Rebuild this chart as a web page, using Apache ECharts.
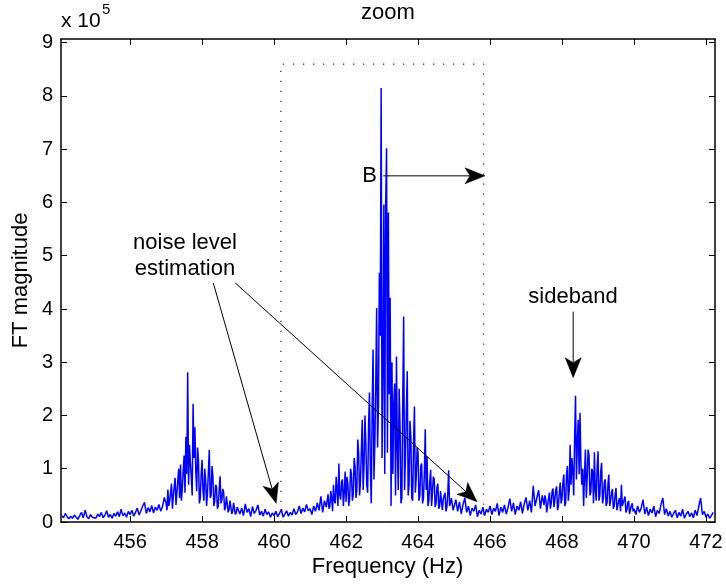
<!DOCTYPE html>
<html>
<head>
<meta charset="utf-8">
<script src="https://cdn.jsdelivr.net/npm/echarts@6/dist/echarts.min.js"></script>
<style>html,body{margin:0;padding:0;background:#fff}#c{width:726px;height:585px}</style>
</head>
<body>
<div id="c"></div>
<script>
// FT magnitude (x 10^5), in frequency segments.
// Each segment: start frequency (Hz) and sampling step (Hz).
const baseLeft = [ // 454.10 .. 456.95, step 0.05
  0.12,0.08,0.16,0.10,0.06,0.11,0.07,0.13,0.09,0.05,0.12,0.18,0.08,0.22,0.10,0.06,0.14,0.09,
  0.12,0.07,0.15,0.10,0.18,0.08,0.13,0.21,0.09,0.14,0.07,0.16,0.11,0.19,0.10,0.24,0.12,0.17,0.09,0.20,
  0.14,0.22,0.11,0.18,0.26,0.13,0.21,0.30,0.37,0.16,0.27,0.19,0.31,0.17,0.28,0.22,0.33,0.20,0.29,0.46
];
const peakLeft = [ // 457.000 .. 458.975, step 0.025
  0.35,0.22,0.61,0.30,0.40,0.55,0.72,0.25,0.48,0.66,0.83,0.32,0.55,0.78,1.00,0.45,1.08,0.40,0.62,0.95,
  1.25,0.55,1.60,0.90,2.81,0.70,1.45,1.10,0.85,0.50,2.22,1.20,1.78,0.95,0.58,1.40,1.15,0.35,0.45,0.90,
  1.17,0.60,0.40,1.00,0.78,0.30,0.55,0.95,1.35,0.45,0.50,1.05,0.86,0.30,0.38,0.70,0.66,0.25,0.30,0.60,
  0.86,0.35,0.42,0.62,0.55,0.22,0.28,0.48,0.45,0.18,0.24,0.40,0.38,0.15,0.20,0.36,0.33,0.14,0.18,0.28
];
const baseMid = [ // 459.00 .. 461.45, step 0.05
  0.30,0.15,0.26,0.12,0.34,0.18,0.25,0.10,0.29,0.16,0.22,0.32,0.13,0.20,0.11,0.24,0.14,0.19,0.09,0.17,
  0.12,0.20,0.10,0.16,0.24,0.09,0.15,0.21,0.11,0.18,0.13,0.25,0.14,0.19,0.30,0.16,0.26,0.19,0.33,0.21,
  0.25,0.14,0.30,0.20,0.36,0.22,0.48,0.18,0.40,0.28
];
const peakCentre = [ // 461.500 .. 464.975, step 0.025
  0.52,0.25,0.30,0.58,0.45,0.20,0.70,0.40,0.35,0.85,0.62,0.30,1.10,0.50,0.42,0.75,0.80,0.30,0.55,0.95,
  0.38,0.85,0.72,0.30,0.45,1.00,0.90,0.40,0.52,1.20,1.05,0.45,0.60,1.55,1.30,0.50,0.75,1.35,1.92,0.60,
  1.10,2.00,1.45,0.70,0.55,1.80,2.43,1.00,0.35,2.10,3.24,0.80,1.50,2.60,4.02,1.40,2.20,4.68,3.50,8.15,
  1.20,2.80,5.96,0.90,5.90,7.02,1.30,5.81,2.40,4.21,0.30,3.00,0.90,2.20,2.60,0.50,3.11,1.40,0.60,2.50,
  1.80,0.35,0.45,2.30,3.86,0.60,1.20,2.10,2.83,0.50,0.70,1.90,1.60,0.45,0.40,1.50,2.17,0.55,0.85,1.40,
  1.30,0.40,0.50,1.05,1.10,0.35,0.45,0.90,1.74,0.60,1.23,0.30,0.40,0.75,0.98,0.30,0.55,0.85,0.80,0.28,
  0.35,0.65,0.72,0.25,0.30,0.58,0.60,0.22,0.42,0.50,0.55,0.20,0.28,0.52,0.97,0.30,0.35,0.45,0.48,0.22
];
const baseRight = [ // 465.00 .. 467.45, step 0.05
  0.25,0.42,0.20,0.38,0.15,0.33,0.45,0.18,0.30,0.12,0.26,0.20,0.32,0.10,0.22,0.15,0.28,0.12,0.24,0.18,
  0.30,0.14,0.26,0.20,0.35,0.12,0.28,0.18,0.32,0.15,0.27,0.44,0.20,0.36,0.14,0.30,0.22,0.38,0.16,0.34,
  0.46,0.22,0.40,0.18,0.68,0.30,0.45,0.60,0.25,0.50
];
const peakSideband = [ // 467.500 .. 469.975, step 0.025
  0.32,0.50,0.42,0.18,0.20,0.45,0.55,0.25,0.35,0.58,0.63,0.28,0.40,0.60,0.67,0.22,0.30,0.55,0.74,0.35,
  0.45,0.75,0.89,0.30,0.35,0.90,1.05,0.40,0.60,1.45,0.70,1.20,0.95,0.50,1.60,2.37,0.80,1.50,1.92,0.90,
  2.05,1.10,0.70,1.00,0.30,0.90,1.36,0.45,0.85,1.36,1.25,0.50,0.55,1.00,0.95,0.35,1.31,0.60,0.40,1.00,
  1.33,0.40,0.50,0.95,1.11,0.35,0.45,0.75,0.80,0.30,0.35,0.70,0.89,0.30,0.40,0.55,0.62,0.25,0.30,0.50,
  0.64,0.22,0.25,0.40,0.45,0.20,0.70,0.30,0.28,0.42,0.48,0.18,0.22,0.36,0.40,0.15,0.18,0.30,0.35,0.20
];
const baseEnd = [ // 470.00 .. 472.20, step 0.05
  0.25,0.14,0.30,0.18,0.26,0.42,0.15,0.28,0.12,0.24,0.17,0.30,0.10,0.22,0.16,0.33,0.45,0.14,0.25,0.11,
  0.20,0.09,0.16,0.22,0.08,0.18,0.11,0.24,0.07,0.15,0.20,0.10,0.17,0.08,0.22,0.12,0.30,0.45,0.14,0.20,
  0.09,0.15,0.07,0.12,0.18
];
const segmentStarts = [454.10, 457.00, 459.00, 461.50, 465.00, 467.50, 470.00];
const segmentSteps  = [0.05, 0.025, 0.05, 0.025, 0.05, 0.025, 0.05];
const segmentValues = [baseLeft, peakLeft, baseMid, peakCentre, baseRight, peakSideband, baseEnd];

const xTicks = [456, 458, 460, 462, 464, 466, 468, 470, 472];
const yTicks = [0, 1, 2, 3, 4, 5, 6, 7, 8, 9];
const xRange = [454.08, 472.25];
const yRange = [0, 9.07];

// dotted "zoom" rectangle (Hz, x10^5)
const zoomBoxX = [460.19, 465.82];
const zoomBoxTop = 8.6;

// annotation arrows, [from, to] in data units
const arrows = [
  [[458.31, 4.49], [460.06, 0.35]],
  [[458.92, 4.49], [465.64, 0.38]],
  [[463.03, 6.50], [465.86, 6.50]],
  [[468.31, 3.95], [468.31, 2.71]]
];

const spectrum = [];
segmentValues.forEach((vals, s) => {
  vals.forEach((m, i) => spectrum.push([+(segmentStarts[s] + i * segmentSteps[s]).toFixed(3), m]));
});
const boxData = [
  [zoomBoxX[0], 0], [zoomBoxX[0], zoomBoxTop], [zoomBoxX[1], zoomBoxTop], [zoomBoxX[1], 0], [zoomBoxX[0], 0]
];

const FONT = '"Liberation Sans", Arial, Helvetica, sans-serif';
const chart = echarts.init(document.getElementById('c'), null, {renderer: 'canvas'});

function xAxisDef(pos, showLabel) {
  return {
    type: 'value', position: pos, min: xRange[0], max: xRange[1],
    axisLine: {onZero: false, lineStyle: {color: '#000', width: 1.5}},
    axisTick: {inside: true, length: 6, customValues: xTicks, lineStyle: {color: '#000', width: 1}},
    axisLabel: {show: showLabel, customValues: xTicks, fontSize: 20, color: '#000', fontFamily: FONT, margin: 10},
    splitLine: {show: false}
  };
}
function yAxisDef(pos, showLabel) {
  return {
    type: 'value', position: pos, min: yRange[0], max: yRange[1],
    axisLine: {onZero: false, lineStyle: {color: '#000', width: 1.5}},
    axisTick: {inside: true, length: 6, customValues: yTicks, lineStyle: {color: '#000', width: 1}},
    axisLabel: {show: showLabel, customValues: yTicks, fontSize: 20, color: '#000', fontFamily: FONT, margin: 8},
    splitLine: {show: false}
  };
}

chart.setOption({
  animation: false,
  backgroundColor: '#fff',
  grid: {left: 61, top: 39, width: 654, height: 483, containLabel: false},
  xAxis: [xAxisDef('bottom', true), xAxisDef('top', false)],
  yAxis: [yAxisDef('left', true), yAxisDef('right', false)],
  series: [
    {
      type: 'line', xAxisIndex: 0, yAxisIndex: 0, data: boxData, symbol: 'none',
      lineStyle: {color: '#333', width: 1.3, type: [1.3, 8.7]}, z: 1, silent: true
    },
    {
      type: 'line', xAxisIndex: 0, yAxisIndex: 0, data: spectrum, symbol: 'none', showSymbol: false,
      lineStyle: {color: '#0000ff', width: 1.5}, clip: true, z: 2
    }
  ]
});

function px(p) { return chart.convertToPixel({xAxisIndex: 0, yAxisIndex: 0}, p); }

const graphics = [];
const HEAD_L = 20, HEAD_W = 8;
arrows.forEach(([a, b]) => {
  const s = px(a), t = px(b);
  const dx = t[0] - s[0], dy = t[1] - s[1];
  const len = Math.hypot(dx, dy);
  const ux = dx / len, uy = dy / len, nx = -uy, ny = ux;
  const notch = [t[0] - 0.75 * HEAD_L * ux, t[1] - 0.75 * HEAD_L * uy];
  graphics.push({type: 'line', z: 10, shape: {x1: s[0], y1: s[1], x2: notch[0], y2: notch[1]},
    style: {stroke: '#000', lineWidth: 1}});
  graphics.push({type: 'polygon', z: 10, shape: {points: [
    t,
    [t[0] - HEAD_L * ux + HEAD_W * nx, t[1] - HEAD_L * uy + HEAD_W * ny],
    notch,
    [t[0] - HEAD_L * ux - HEAD_W * nx, t[1] - HEAD_L * uy - HEAD_W * ny]
  ]}, style: {fill: '#000', stroke: '#000', lineWidth: 0.5}});
});

function txt(text, x, y, size, align, rot) {
  return {type: 'text', x: x, y: y, rotation: rot || 0, z: 11,
    style: {text: text, x: 0, y: 0, fill: '#000', font: size + 'px ' + FONT,
      textAlign: align || 'center', textVerticalAlign: 'middle'}};
}
graphics.push(txt('zoom', 388, 13, 22));
graphics.push(txt('Frequency (Hz)', 387.5, 567, 22));
graphics.push(txt('FT magnitude', 21, 280.5, 22, 'center', Math.PI / 2));
graphics.push(txt('x 10', 61, 21, 21, 'left'));
graphics.push(txt('5', 102, 9.5, 15, 'left'));
graphics.push(txt('B', 369.5, 176, 22));
graphics.push(txt('noise level', 185, 243, 22));
graphics.push(txt('estimation', 185, 269, 22));
graphics.push(txt('sideband', 573, 297, 22));

chart.setOption({graphic: graphics});
</script>
</body>
</html>
